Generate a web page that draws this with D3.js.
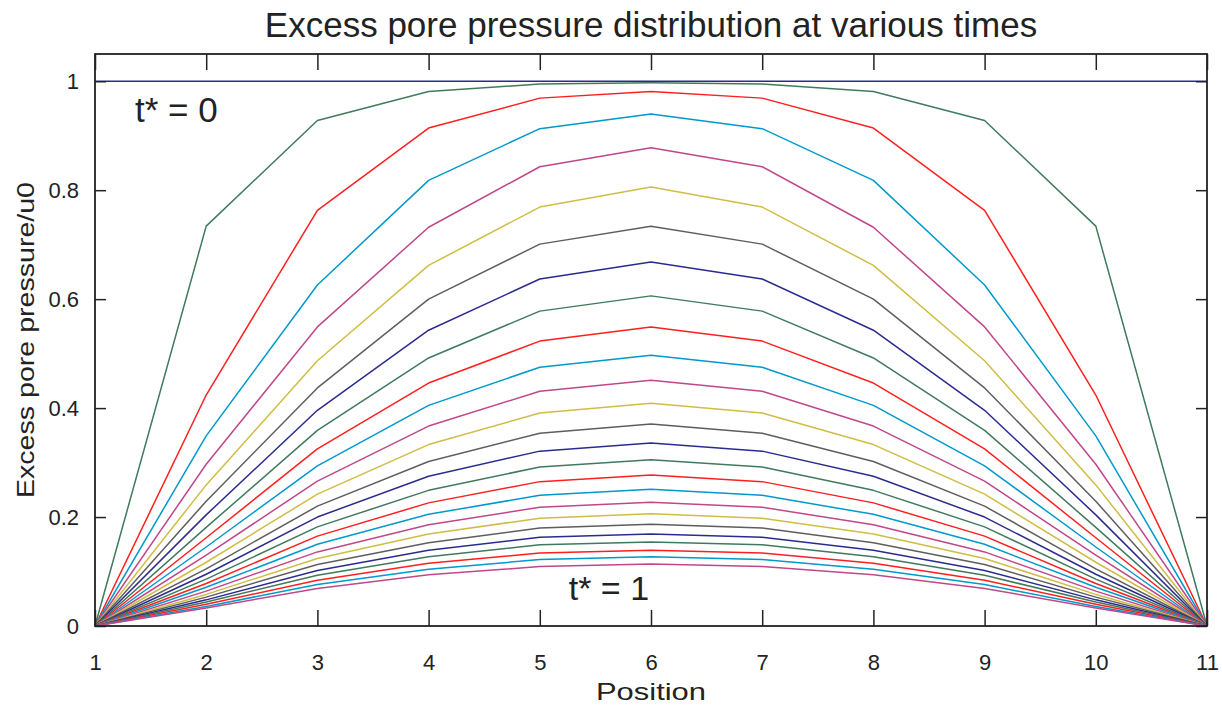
<!DOCTYPE html>
<html>
<head>
<meta charset="utf-8">
<script src="https://cdn.jsdelivr.net/npm/d3@7"></script>
<style>
  html, body { margin: 0; padding: 0; background: #fff; }
  svg { display: block; font-family: "Liberation Sans", Arial, sans-serif; }
</style>
</head>
<body>
<div id="chart"></div>
<script>
// node positions along the layer
const positions = [1, 2, 3, 4, 5, 6, 7, 8, 9, 10, 11];
const yTicks = [0, 0.2, 0.4, 0.6, 0.8, 1];

// u/u0 at each position, one row per time step (t* = 0 ... t* = 1)
const profiles = [
  [1, 1, 1, 1, 1, 1, 1, 1, 1, 1, 1],
  [0, 0.734, 0.928, 0.981, 0.995, 0.997, 0.995, 0.981, 0.928, 0.734, 0],
  [0, 0.424, 0.763, 0.914, 0.969, 0.981, 0.969, 0.914, 0.763, 0.424, 0],
  [0, 0.349, 0.626, 0.818, 0.913, 0.940, 0.913, 0.818, 0.626, 0.349, 0],
  [0, 0.297, 0.549, 0.732, 0.843, 0.878, 0.843, 0.732, 0.549, 0.297, 0],
  [0, 0.259, 0.487, 0.662, 0.769, 0.806, 0.769, 0.662, 0.487, 0.259, 0],
  [0, 0.229, 0.437, 0.600, 0.701, 0.734, 0.701, 0.600, 0.437, 0.229, 0],
  [0, 0.204, 0.396, 0.543, 0.637, 0.668, 0.637, 0.543, 0.396, 0.204, 0],
  [0, 0.181, 0.359, 0.492, 0.578, 0.606, 0.578, 0.492, 0.359, 0.181, 0],
  [0, 0.162, 0.325, 0.446, 0.523, 0.549, 0.523, 0.446, 0.325, 0.162, 0],
  [0, 0.145, 0.294, 0.405, 0.475, 0.497, 0.475, 0.405, 0.294, 0.145, 0],
  [0, 0.130, 0.266, 0.367, 0.431, 0.451, 0.431, 0.367, 0.266, 0.130, 0],
  [0, 0.117, 0.242, 0.333, 0.391, 0.409, 0.391, 0.333, 0.242, 0.117, 0],
  [0, 0.105, 0.220, 0.302, 0.354, 0.371, 0.354, 0.302, 0.220, 0.105, 0],
  [0, 0.095, 0.200, 0.275, 0.321, 0.336, 0.321, 0.275, 0.200, 0.095, 0],
  [0, 0.086, 0.182, 0.249, 0.292, 0.305, 0.292, 0.249, 0.182, 0.086, 0],
  [0, 0.078, 0.165, 0.226, 0.265, 0.277, 0.265, 0.226, 0.165, 0.078, 0],
  [0, 0.071, 0.150, 0.205, 0.240, 0.251, 0.240, 0.205, 0.150, 0.071, 0],
  [0, 0.064, 0.136, 0.186, 0.218, 0.227, 0.218, 0.186, 0.136, 0.064, 0],
  [0, 0.058, 0.124, 0.169, 0.198, 0.206, 0.198, 0.169, 0.124, 0.058, 0],
  [0, 0.053, 0.113, 0.153, 0.180, 0.187, 0.180, 0.153, 0.113, 0.053, 0],
  [0, 0.048, 0.102, 0.139, 0.163, 0.169, 0.163, 0.139, 0.102, 0.048, 0],
  [0, 0.044, 0.093, 0.127, 0.149, 0.154, 0.149, 0.127, 0.093, 0.044, 0],
  [0, 0.040, 0.084, 0.115, 0.134, 0.139, 0.134, 0.115, 0.084, 0.040, 0],
  [0, 0.036, 0.076, 0.104, 0.122, 0.127, 0.122, 0.104, 0.076, 0.036, 0],
  [0, 0.033, 0.069, 0.094, 0.109, 0.114, 0.109, 0.094, 0.069, 0.033, 0]
];

// line colour cycle (navy, green, red, cyan, magenta, olive yellow, grey)
const lineColors = ["#2b2b8f", "#3f7a5c", "#ff1f1f", "#0099cc", "#c0478a", "#cfbd45", "#5e5e5e"];

const width = 1222, height = 708;
const margin = { top: 54, right: 15, bottom: 82, left: 95 };

const svg = d3.select("#chart").append("svg")
  .attr("width", width)
  .attr("height", height);

const x = d3.scaleLinear().domain([1, 11]).range([margin.left, width - margin.right]);
const y = d3.scaleLinear().domain([0, 1.05]).range([height - margin.bottom, margin.top]);

const plotW = x.range()[1] - x.range()[0];
const plotH = y.range()[0] - y.range()[1];
const midX = (x.range()[0] + x.range()[1]) / 2;
const midY = (y.range()[0] + y.range()[1]) / 2;

// lines
const line = d3.line()
  .x((d, i) => x(positions[i]))
  .y(d => y(d));

svg.append("g")
  .attr("fill", "none")
  .attr("stroke-width", 1.5)
  .attr("stroke-linejoin", "round")
  .selectAll("path")
  .data(profiles)
  .enter().append("path")
  .attr("stroke", (d, i) => lineColors[i % lineColors.length])
  .attr("d", line);

// axes with inward ticks on all four sides
const tickColor = "#222";
const xLen = 16, yLen = 11;

const gxB = svg.append("g")
  .attr("transform", `translate(0,${y(0)})`)
  .call(d3.axisBottom(x).tickValues(positions).tickSize(-xLen).tickPadding(28).tickFormat(d3.format("d")));
const gxT = svg.append("g")
  .attr("transform", `translate(0,${margin.top})`)
  .call(d3.axisTop(x).tickValues(positions).tickSize(-xLen).tickFormat(""));
const gyL = svg.append("g")
  .attr("transform", `translate(${margin.left},0)`)
  .call(d3.axisLeft(y).tickValues(yTicks).tickSize(-yLen).tickPadding(16).tickFormat(d => d3.format("~g")(d)));
const gyR = svg.append("g")
  .attr("transform", `translate(${width - margin.right},0)`)
  .call(d3.axisRight(y).tickValues(yTicks).tickSize(-yLen).tickFormat(""));

[gxB, gxT, gyL, gyR].forEach(g => {
  g.select(".domain").remove();
  g.selectAll(".tick line").attr("stroke", tickColor).attr("stroke-width", 1.5);
  g.selectAll(".tick text").attr("fill", "#222").style("font-size", "22px");
});

// frame
svg.append("rect")
  .attr("x", margin.left)
  .attr("y", margin.top)
  .attr("width", plotW)
  .attr("height", plotH)
  .attr("fill", "none")
  .attr("stroke", tickColor)
  .attr("stroke-width", 1.8);

// title & labels
svg.append("text")
  .attr("x", midX)
  .attr("y", 37)
  .attr("text-anchor", "middle")
  .style("font-size", "35px")
  .attr("fill", "#222")
  .text("Excess pore pressure distribution at various times");

svg.append("text")
  .attr("x", midX)
  .attr("y", 700)
  .attr("text-anchor", "middle")
  .style("font-size", "24px")
  .attr("textLength", 110)
  .attr("lengthAdjust", "spacingAndGlyphs")
  .attr("fill", "#222")
  .text("Position");

svg.append("text")
  .attr("transform", `translate(34,${midY}) rotate(-90)`)
  .attr("text-anchor", "middle")
  .style("font-size", "24px")
  .attr("textLength", 316)
  .attr("lengthAdjust", "spacingAndGlyphs")
  .attr("fill", "#222")
  .text("Excess pore pressure/u0");

// annotations
svg.append("text")
  .attr("x", x(1.36))
  .attr("y", y(0.925))
  .style("font-size", "35px")
  .attr("fill", "#222")
  .text("t* = 0");

svg.append("text")
  .attr("x", x(5.26))
  .attr("y", y(0.048))
  .style("font-size", "34px")
  .attr("fill", "#222")
  .text("t* = 1");
</script>
</body>
</html>
